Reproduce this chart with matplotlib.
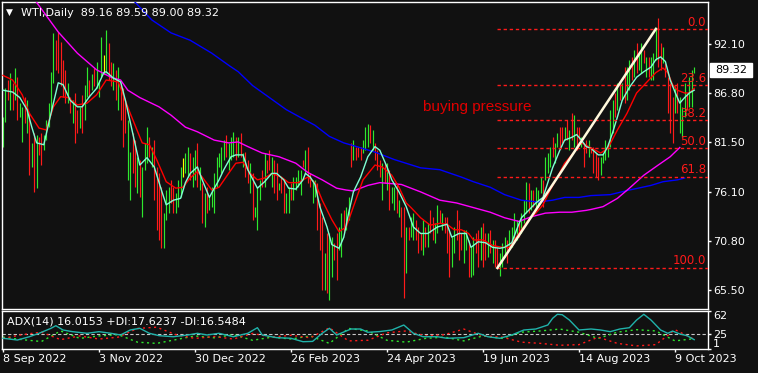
import matplotlib
matplotlib.use('Agg')
import matplotlib.pyplot as plt
import numpy as np
from matplotlib.transforms import blended_transform_factory
from matplotlib.patches import Rectangle

# Figure size in pixels
W, H = 758, 373
BG = '#111111'

# Daily bars (high / low), 8 Sep 2022 .. Oct 2023
bar_high = [
    84.2, 87.3, 88.2, 89.0, 87.9, 89.5, 88.5, 85.7, 85.3, 86.4,
    86.0, 84.6, 81.4, 82.5, 82.3, 82.0, 82.5, 82.3, 83.9, 85.7,
    89.1, 93.3, 92.5, 93.4, 92.3, 90.4, 89.3, 87.9, 86.4, 86.0,
    86.8, 85.0, 85.3, 86.6, 87.7, 89.6, 88.2, 88.8, 89.5, 90.2,
    88.2, 92.8, 90.9, 93.6, 92.2, 90.2, 90.0, 89.3, 89.6, 87.9,
    87.3, 86.0, 83.9, 80.4, 82.5, 81.7, 79.9, 79.6, 78.8, 81.4,
    83.1, 82.0, 81.0, 81.7, 78.8, 78.1, 76.6, 73.8, 76.3, 76.6,
    77.4, 76.6, 76.0, 77.4, 78.8, 79.8, 80.3, 81.0, 80.3, 79.9,
    80.6, 81.4, 78.8, 77.1, 76.0, 76.6, 75.5, 76.6, 78.1, 79.9,
    80.3, 81.0, 81.7, 82.3, 81.4, 82.0, 82.6, 82.0, 82.0, 82.5,
    80.3, 80.4, 79.6, 79.2, 78.1, 74.5, 76.6, 77.4, 78.5, 80.3,
    79.6, 80.6, 79.9, 79.6, 79.2, 77.1, 77.7, 77.4, 76.0, 76.6,
    77.1, 77.7, 77.7, 78.5, 78.5, 79.6, 80.6, 81.0, 78.1, 77.4,
    77.4, 77.1, 74.9, 73.4, 69.5, 71.6, 71.6, 71.2, 70.6, 71.6,
    72.3, 73.8, 74.1, 74.5, 75.5, 81.4, 81.7, 81.0, 81.0, 81.0,
    81.7, 83.1, 83.4, 83.3, 82.8, 81.4, 80.6, 79.6, 79.2, 79.2,
    79.2, 78.5, 76.6, 76.6, 77.1, 75.2, 74.5, 74.5, 72.3, 72.3,
    73.4, 73.8, 73.1, 72.3, 71.6, 73.1, 72.3, 72.7, 74.1, 73.4,
    72.7, 74.7, 74.1, 73.8, 73.4, 73.4, 72.0, 71.2, 72.3, 74.1,
    73.1, 71.6, 72.0, 72.0, 70.9, 70.1, 71.2, 71.6, 72.0, 72.3,
    72.7, 71.6, 71.6, 72.0, 70.9, 70.9, 70.1, 69.5, 70.6, 71.2,
    70.9, 72.0, 72.3, 73.8, 73.1, 72.7, 73.8, 75.2, 77.2, 77.1,
    76.3, 76.3, 76.6, 76.3, 77.7, 77.4, 79.9, 80.3, 81.0, 82.0,
    81.4, 82.5, 83.1, 83.1, 83.1, 83.9, 82.8, 84.6, 84.4, 83.1,
    83.1, 82.0, 81.4, 81.7, 81.7, 81.0, 81.0, 80.3, 79.9, 79.9,
    80.3, 81.7, 81.4, 85.0, 86.0, 86.8, 87.9, 87.9, 87.9, 89.6,
    89.6, 90.4, 90.7, 91.5, 92.2, 91.1, 92.2, 91.5, 90.7, 90.7,
    90.7, 91.1, 93.9, 94.9, 92.2, 91.8, 90.0, 88.5, 87.9, 86.4,
    87.5, 87.9, 86.4, 85.3, 87.9, 86.8, 88.5, 89.3, 89.59,
]
bar_low = [
    81.0, 83.7, 86.0, 85.0, 85.0, 86.0, 83.9, 84.2, 81.5, 83.6,
    82.5, 77.9, 78.8, 76.1, 76.5, 80.1, 79.0, 80.6, 81.7, 83.1,
    85.0, 87.9, 89.3, 89.0, 87.5, 86.4, 85.7, 85.7, 84.6, 83.6,
    81.4, 82.5, 83.0, 82.5, 83.9, 86.4, 86.4, 87.1, 87.5, 87.3,
    86.4, 88.5, 88.8, 89.0, 88.2, 87.5, 87.1, 86.0, 85.0, 83.9,
    81.0, 82.5, 77.4, 75.2, 78.1, 76.6, 76.0, 75.5, 73.4, 78.5,
    79.2, 79.9, 78.8, 75.2, 72.0, 70.9, 70.0, 70.0, 73.1, 73.8,
    74.9, 73.8, 73.8, 74.5, 75.5, 77.7, 78.1, 77.7, 77.4, 76.6,
    77.4, 76.6, 76.3, 72.7, 72.3, 73.8, 74.1, 74.5, 73.8, 76.6,
    78.8, 78.1, 79.6, 79.9, 78.5, 79.6, 79.9, 79.6, 79.9, 79.9,
    78.8, 77.7, 77.1, 76.0, 73.1, 73.4, 72.0, 75.2, 76.6, 76.6,
    78.1, 78.5, 76.6, 76.0, 75.2, 76.3, 76.0, 73.8, 73.8, 73.8,
    75.2, 75.2, 76.3, 76.6, 75.8, 78.8, 78.1, 77.1, 76.6, 74.9,
    75.5, 72.0, 69.8, 65.5, 65.5, 65.2, 64.4, 66.9, 68.7, 66.6,
    69.8, 69.1, 71.6, 72.0, 73.1, 78.8, 79.6, 79.6, 79.9, 79.6,
    80.3, 80.6, 81.0, 81.4, 80.6, 79.6, 78.5, 77.7, 75.2, 77.1,
    76.3, 74.1, 74.9, 74.1, 73.8, 73.4, 71.2, 64.6, 67.3, 70.9,
    71.2, 70.9, 70.9, 69.5, 69.8, 69.3, 70.1, 70.1, 71.6, 70.9,
    70.6, 71.6, 72.7, 72.0, 71.6, 69.5, 66.9, 68.0, 69.5, 70.9,
    68.7, 69.8, 68.4, 69.8, 66.9, 66.9, 67.1, 69.5, 68.0, 68.7,
    68.0, 68.7, 69.1, 69.5, 68.4, 68.0, 68.0, 67.0, 68.0, 69.1,
    68.4, 70.1, 70.1, 70.6, 70.9, 71.2, 71.6, 72.7, 73.8, 73.8,
    74.1, 74.5, 74.1, 74.5, 76.0, 74.5, 77.4, 78.1, 78.8, 79.9,
    79.2, 81.0, 81.0, 81.4, 81.7, 81.7, 80.6, 81.7, 81.0, 80.6,
    81.7, 81.0, 78.8, 80.3, 79.9, 80.3, 78.1, 77.7, 77.4, 77.9,
    79.2, 79.6, 79.9, 81.0, 82.5, 84.2, 85.0, 86.0, 86.0, 85.7,
    86.0, 87.1, 88.2, 88.5, 89.0, 89.3, 89.0, 90.0, 88.5, 88.5,
    88.2, 88.2, 90.4, 89.6, 89.3, 90.0, 88.5, 84.6, 82.5, 81.4,
    84.6, 84.6, 82.5, 82.0, 84.2, 85.0, 85.3, 85.3, 89.00,
]
# G = up bar, R = down bar, D = doji
bar_dir = (
    "GGRGRGRGGR" "GRGRGRRGGG" "GGRRRRRGRG" "RRGRGGRGRG" "GGDGRRGRGR"
    "RRGGRRGRGG" "GRGRRRRGGG" "RRGGGDGGRG" "GRGRGRGGGG" "GGGRGGGRGR"
    "GRRGRGGGRG" "RRGRRGRRGG" "RGGGGRGRRG" "GRRRGRGGRR" "GGRGGRGRRR"
    "GGGRGRRRGR" "GRGGRGRRGR" "GGRRRGRGRR" "GGRGRRRGGR" "RRGGRGGRRG"
    "RRGRGRRGGG" "RGGGGRGGGR" "GRGGGRGGGR" "GGRRGRGRGR" "RGRRGRRRRG"
    "GGGGGRGRGR" "GGRGRGGRGR" "GGGRRGRRRR" "GRGGGRGGG"
)
header_ohlc = [89.16, 89.59, 89.00, 89.32]

# Moving averages (bar index, price)
fast_ma = [(0, 87.1), (4, 86.9), (7, 86.3), (10, 85.0), (12, 83.1), (14, 81.4), (17, 81.2), (20, 84.6),
           (23, 87.9), (25, 87.7), (28, 86.0), (31, 85.3), (33, 85.3), (36, 86.4), (39, 87.3), (42, 89.0),
           (43, 89.1), (46, 88.4), (49, 88.0), (51, 86.0), (54, 82.5), (57, 79.0), (60, 79.8), (63, 78.8),
           (66, 76.3), (68, 74.7), (71, 75.2), (74, 75.4), (76, 77.1), (78, 78.1), (81, 78.8), (83, 77.4),
           (86, 75.5), (87, 76.0), (90, 77.4), (92, 78.5), (95, 79.9), (97, 80.1), (100, 80.1), (102, 78.5),
           (106, 76.5), (109, 77.2), (112, 78.1), (114, 78.1), (117, 77.4), (119, 76.5), (122, 76.4),
           (125, 77.4), (126, 78.1), (128, 77.7), (130, 76.9), (132, 74.5), (135, 72.3), (137, 70.4),
           (140, 70.0), (142, 71.2), (144, 73.8), (146, 76.1), (149, 77.7), (152, 79.9), (155, 81.0),
           (157, 80.6), (160, 78.8), (162, 77.4), (165, 76.1), (168, 74.5), (171, 72.3), (174, 71.6),
           (177, 71.6), (181, 72.3), (185, 72.6), (187, 71.2), (190, 71.6), (193, 71.6), (195, 70.1),
           (198, 70.7), (201, 70.6), (204, 70.1), (207, 70.0), (209, 70.1), (212, 70.6), (214, 72.0),
           (216, 73.3), (219, 74.1), (222, 74.9), (225, 75.5), (227, 77.1), (229, 78.7), (232, 80.6),
           (234, 81.7), (237, 82.0), (239, 82.3), (241, 81.7), (243, 81.0), (245, 80.8), (248, 80.1),
           (250, 80.1), (252, 81.0), (254, 82.5), (256, 84.2), (258, 86.0), (261, 87.4), (264, 88.5),
           (267, 89.1), (270, 89.6), (272, 90.4), (274, 90.7), (276, 90.2), (278, 88.2), (280, 86.9),
           (282, 85.7), (284, 86.3), (286, 86.8), (288, 87.1)]
red_ma = [(0, 88.7), (4, 88.2), (8, 86.6), (11, 84.6), (15, 83.0), (18, 82.8), (21, 85.3), (24, 86.4),
          (27, 86.3), (31, 85.5), (35, 85.7), (39, 86.6), (43, 88.2), (48, 88.0), (53, 84.6), (58, 81.4),
          (61, 81.2), (64, 79.6), (68, 77.2), (72, 76.5), (75, 76.6), (78, 77.6), (81, 78.3), (83, 77.7),
          (87, 76.3), (90, 76.6), (94, 78.1), (97, 79.2), (100, 79.3), (103, 78.1), (106, 77.4),
          (109, 77.6), (112, 78.1), (116, 77.7), (119, 77.1), (123, 77.1), (127, 77.7), (130, 77.1),
          (133, 75.2), (137, 73.1), (140, 71.8), (143, 72.3), (146, 74.5), (150, 77.4), (155, 79.0),
          (158, 78.8), (162, 77.9), (165, 76.6), (168, 74.9), (170, 74.4), (174, 73.3), (178, 72.5),
          (182, 72.7), (185, 72.6), (188, 72.0), (191, 72.0), (194, 71.6), (196, 70.9), (200, 70.9),
          (204, 70.3), (208, 70.1), (211, 70.1), (213, 70.9), (216, 72.0), (219, 73.1), (222, 73.8),
          (225, 74.7), (228, 76.3), (231, 77.7), (234, 79.2), (238, 80.4), (241, 81.4), (244, 81.0),
          (249, 80.3), (252, 80.8), (256, 82.8), (260, 84.6), (264, 86.8), (268, 87.9), (272, 89.0),
          (275, 89.5), (277, 89.0), (279, 87.7), (281, 87.1), (284, 86.8), (286, 86.8), (288, 87.3)]
magenta_ma = [(0, 101.5), (14, 96.6), (23, 93.4), (31, 91.1), (39, 89.3), (45, 88.5), (49, 88.2),
              (52, 87.1), (57, 86.3), (65, 85.3), (70, 84.4), (76, 83.1), (81, 82.6), (88, 81.7),
              (94, 81.4), (98, 81.5), (102, 81.0), (108, 80.3), (115, 79.9), (122, 79.2), (127, 78.2),
              (133, 77.4), (139, 76.5), (143, 76.3), (146, 76.2), (152, 76.8), (157, 77.1), (166, 76.9),
              (174, 76.1), (182, 75.2), (189, 74.9), (196, 74.4), (203, 73.9), (209, 73.3), (215, 72.9),
              (220, 73.4), (226, 73.8), (232, 73.9), (237, 73.9), (243, 74.1), (245, 74.2), (250, 74.5),
              (256, 75.4), (261, 76.5), (267, 77.9), (273, 79.0), (278, 79.9), (282, 80.9)]
blue_ma = [(40, 100.7), (54, 96.9), (62, 94.7), (70, 93.3), (78, 92.5), (87, 91.1), (94, 89.8),
           (98, 89.1), (104, 87.6), (111, 86.3), (118, 85.0), (125, 84.0), (130, 83.3), (136, 82.1),
           (142, 81.4), (146, 81.1), (155, 80.4), (163, 79.6), (174, 78.7), (182, 78.5), (191, 77.7),
           (196, 77.2), (203, 76.6), (209, 75.8), (216, 75.2), (223, 75.0), (229, 75.2), (234, 75.5),
           (240, 75.5), (245, 75.7), (253, 75.8), (261, 76.3), (270, 76.8), (275, 77.2), (281, 77.4),
           (284, 77.6)]

# Fibonacci retracement anchors (bar index, price)
fib_low_bar, fib_low = 206, 67.87
fib_high_bar, fib_high = 272, 93.72
fib_levels = [0.0, 23.6, 38.2, 50.0, 61.8, 100.0]

price_ticks = [92.10, 86.80, 81.50, 76.10, 70.80, 65.50]
date_bars = [0, 40, 80, 120, 160, 200, 240, 280]
date_labels = ['8 Sep 2022', '3 Nov 2022', '30 Dec 2022', '26 Feb 2023',
               '24 Apr 2023', '19 Jun 2023', '14 Aug 2023', '9 Oct 2023']

# ADX(14) sub-window
adx_line = [(0, 18.2), (6, 15.4), (11, 20.7), (15, 26.2), (20, 34.2), (22, 38.4), (25, 31.5), (29, 28.8),
            (35, 26.2), (40, 28.8), (45, 26.2), (49, 23.5), (53, 31.5), (57, 34.2), (61, 26.2), (65, 22.4),
            (71, 20.7), (77, 23.5), (81, 26.2), (85, 23.5), (90, 26.2), (96, 20.7), (102, 26.2), (106, 35.2),
            (108, 23.5), (114, 19.2), (120, 18.2), (125, 12.7), (129, 13.2), (133, 26.2), (136, 34.2),
            (139, 23.5), (145, 33.1), (149, 33.1), (152, 27.8), (157, 29.0), (162, 31.5), (167, 39.5),
            (171, 26.2), (175, 20.7), (181, 20.7), (185, 18.2), (192, 19.2), (198, 26.2), (202, 20.7),
            (207, 18.2), (212, 23.5), (217, 31.5), (222, 33.1), (227, 39.5), (229, 50.2), (231, 56.7),
            (233, 56.0), (236, 47.5), (240, 31.5), (245, 33.1), (249, 31.5), (253, 28.8), (257, 33.1),
            (261, 35.2), (264, 47.5), (267, 56.7), (270, 47.5), (274, 31.5), (277, 26.2), (279, 29.8),
            (282, 25.1), (285, 22.4), (288, 16.0)]
di_bars = list(range(0, 289, 8))
plus_di = [20, 16, 13, 30, 18, 22, 24, 12, 10, 16, 22, 19, 24, 15, 20, 17, 22, 10, 34, 30,
           15, 12, 18, 20, 14, 22, 18, 28, 30, 33, 28, 18, 28, 32, 30, 14, 17.6]
minus_di = [18, 24, 28, 16, 22, 17, 20, 34, 36, 24, 18, 21, 17, 26, 20, 23, 19, 35, 14, 15,
            27, 30, 22, 24, 33, 22, 20, 12, 10, 7, 8, 20, 10, 6, 8, 32, 16.5]
adx_last = (16.0153, 17.6237, 16.5484)

assert len(bar_high) == len(bar_low) == len(bar_dir)

plt.rcParams['font.family'] = ['DejaVu Sans']
fig = plt.figure(figsize=(W / 100, H / 100), dpi=100, facecolor=BG)


def px_box(left, top, right, bottom):
    return [left / W, 1 - bottom / H, (right - left) / W, (bottom - top) / H]


ax = fig.add_axes(px_box(2, 2, 708, 309))
ax2 = fig.add_axes(px_box(2, 311, 708, 349))
xlim = (-0.42, 293.75)

for a in (ax, ax2):
    a.set_facecolor(BG)
    a.set_xlim(*xlim)
    for s in a.spines.values():
        s.set_color('white')
        s.set_linewidth(1)

# --- main price window ---
ax.set_ylim(63.43, 96.64)
idx = np.arange(len(bar_high))
col_map = {'G': '#2ee82e', 'R': '#ff1a1a', 'D': '#ffff00'}
ax.vlines(idx, bar_low, bar_high, colors=[col_map[c] for c in bar_dir], lw=0.85, zorder=2)

for pts, c in [(blue_ma, '#0000ff'), (magenta_ma, '#ff00ff'), (red_ma, '#ff0000'), (fast_ma, '#7fffd4')]:
    x, y = zip(*pts)
    ax.plot(x, y, color=c, lw=1, zorder=3)

blend = blended_transform_factory(ax.transAxes, ax.transData)
span = fib_high - fib_low
for lvl in fib_levels:
    p = fib_high - span * lvl / 100
    ax.plot([fib_low_bar, xlim[1]], [p, p], color='#ff1a1a', lw=1, ls=(0, (2.4, 2)), zorder=4)
    ax.text(0.997, p + 0.05, f'{lvl:.1f}', transform=blend, ha='right', va='bottom',
            color='#ff1a1a', fontsize=8.5, zorder=6)
ax.plot([fib_low_bar, fib_high_bar], [fib_low, fib_high], color='#fff8dc', lw=1.8, zorder=5)

ax.text(175, 85.3, 'buying pressure', color='#e00000', fontsize=11,
        family=['Liberation Sans', 'DejaVu Sans'], va='center', zorder=6)

ax.set_xticks([])
ax.yaxis.tick_right()
ax.set_yticks(price_ticks)
ax.set_yticklabels([f'{v:.2f}' for v in price_ticks])
ax.tick_params(axis='y', colors='white', length=2.2, width=1, labelsize=8, pad=1.5)

# current price box
last_close = header_ohlc[3]
y_disp = ax.transData.transform((0, last_close))[1]
fig.add_artist(Rectangle((710 / W, (y_disp - 7) / H), 42 / W, 14 / H, transform=fig.transFigure,
                         facecolor='white', edgecolor='white'))
fig.text(731 / W, y_disp / H, f'{last_close:.2f}', ha='center', va='center', color='black', fontsize=8)

fig.text(6 / W, 1 - 12.5 / H, '\u25bc', color='white', fontsize=6.5, va='center')
fig.text(21 / W, 1 - 13 / H, 'WTI,Daily  ' + ' '.join(f'{v:.2f}' for v in header_ohlc),
         color='white', fontsize=8, va='center')

# --- ADX window ---
ax2.set_ylim(1, 62)
x, y = zip(*adx_line)
ax2.plot(x, y, color='#20b2aa', lw=1, zorder=3)
ax2.plot(di_bars, plus_di, color='#2ee82e', lw=1, ls=(0, (1.5, 2.5)), zorder=2)
ax2.plot(di_bars, minus_di, color='#ff1a1a', lw=1, ls=(0, (1.5, 2.5)), zorder=2)
ax2.axhline(25, color='#c8c8c8', lw=0.8, ls=(0, (3, 2)), zorder=1)

ax2.yaxis.tick_right()
ax2.set_yticks([1, 25, 62])
ax2.set_yticklabels(['1', '25', '62'])
ax2.tick_params(axis='y', colors='white', length=2.2, width=1, labelsize=8, pad=1.5)
ylabels = ax2.get_yticklabels()
ylabels[0].set_verticalalignment('bottom')
ylabels[2].set_verticalalignment('top')

ax2.set_xticks(date_bars)
ax2.set_xticklabels(date_labels)
ax2.tick_params(axis='x', colors='white', length=2.2, width=1, labelsize=8, pad=1.5)
for lbl in ax2.get_xticklabels():
    lbl.set_horizontalalignment('left')

fig.text(7 / W, 1 - 322 / H,
         'ADX(14) %.4f +DI:%.4f -DI:%.4f' % adx_last, color='white', fontsize=8, va='center')

fig.savefig('out.png', dpi=100, facecolor=BG)
